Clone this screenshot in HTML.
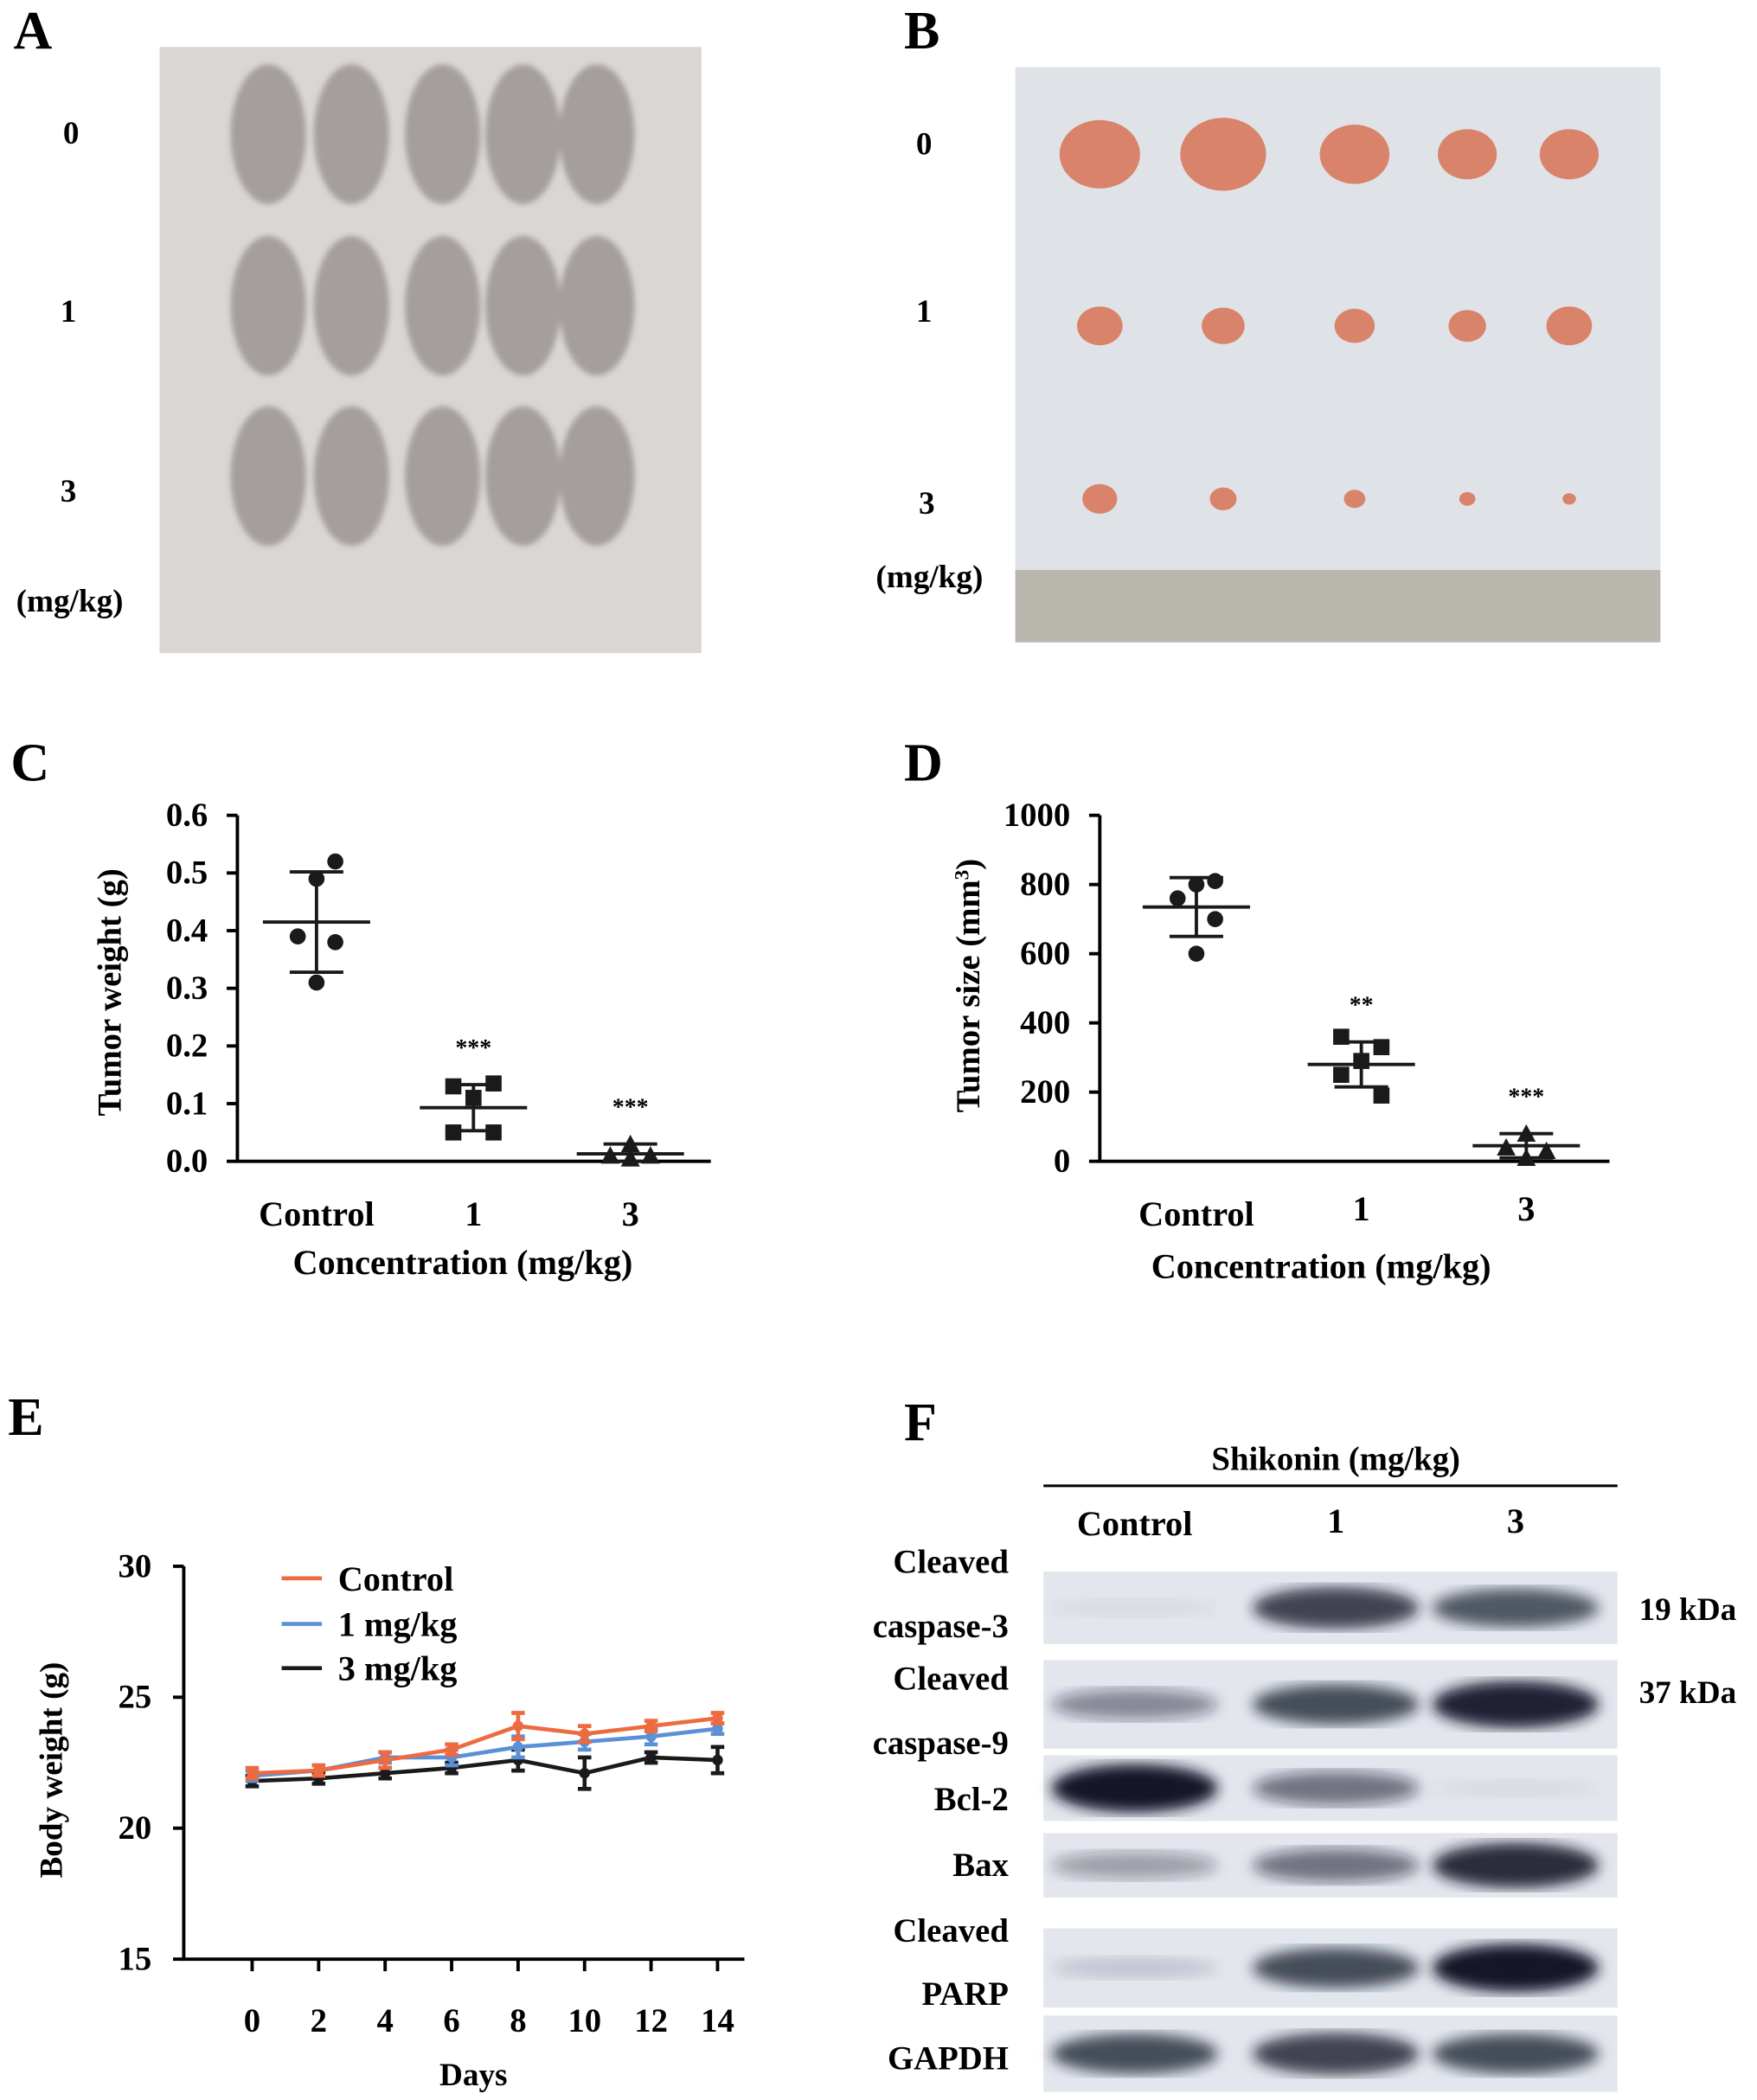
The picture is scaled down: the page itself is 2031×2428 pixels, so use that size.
<!DOCTYPE html>
<html><head><meta charset="utf-8"><style>
html,body{margin:0;padding:0;background:#fff}
svg{display:block;font-family:"Liberation Serif",serif;font-weight:bold}
</style></head><body>
<svg id="fig" width="2031" height="2428" viewBox="0 0 1310 1566" xmlns="http://www.w3.org/2000/svg">
<defs>
<filter id="blur4"><feGaussianBlur stdDeviation="5"/></filter>
<filter id="blur2"><feGaussianBlur stdDeviation="2"/></filter>
</defs>
<g>
<text x="10" y="36" font-size="40">A</text>
<rect x="119" y="35" width="404" height="452" fill="#d9d6d3"/>
<text x="47" y="107" font-size="24">0</text>
<text x="45" y="240" font-size="24">1</text>
<text x="45" y="374" font-size="24">3</text>
<text x="12" y="456" font-size="24">(mg/kg)</text>
<g id="mice" filter="url(#blur2)"></g>
</g>
<g>
<text x="674" y="36" font-size="40">B</text>
<rect x="757" y="50" width="481" height="429" fill="#dfe3e8"/>
<rect x="757" y="425" width="481" height="54" fill="#b9b7ae"/>
<text x="683" y="115" font-size="24">0</text>
<text x="683" y="240" font-size="24">1</text>
<text x="685" y="383" font-size="24">3</text>
<text x="653" y="438" font-size="24">(mg/kg)</text>
<g id="tumors"></g>
</g>
<g id="panelC">
<text x="8" y="582" font-size="40">C</text>
<text transform="translate(90,740) rotate(-90)" text-anchor="middle" font-size="25">Tumor weight (g)</text>
<text x="345" y="950" text-anchor="middle" font-size="26">Concentration (mg/kg)</text>
</g>
<g id="panelD">
<text x="674" y="582" font-size="40">D</text>
<text transform="translate(730,735) rotate(-90)" text-anchor="middle" font-size="25">Tumor size (mm<tspan font-size="15" dy="-8">3</tspan><tspan dy="8">)</tspan></text>
<text x="985" y="953" text-anchor="middle" font-size="26">Concentration (mg/kg)</text>
</g>
<g id="panelE">
<text x="6" y="1070" font-size="40">E</text>
<text transform="translate(46,1320) rotate(-90)" text-anchor="middle" font-size="24">Body weight (g)</text>
<text x="353" y="1555" text-anchor="middle" font-size="24">Days</text>
</g>
<g id="panelF">
<text x="674" y="1074" font-size="40">F</text>
<text x="996" y="1096" text-anchor="middle" font-size="25">Shikonin (mg/kg)</text>
<line x1="778" y1="1108" x2="1206" y2="1108" stroke="#000" stroke-width="2"/>
<text x="846" y="1145" text-anchor="middle" font-size="26">Control</text>
<text x="996" y="1143" text-anchor="middle" font-size="26">1</text>
<text x="1130" y="1143" text-anchor="middle" font-size="26">3</text>
<text x="1222" y="1208" font-size="24">19 kDa</text>
<text x="1222" y="1270" font-size="24">37 kDa</text>
</g>
</svg>
<script>
var NS='http://www.w3.org/2000/svg';
function mk(tag,a,p){var e=document.createElementNS(NS,tag);for(var k in a)e.setAttribute(k,a[k]);p.appendChild(e);return e;}

var miceG=document.getElementById('mice');
var mouseRows=[100,228,355], mouseCols=[200,262,330,390,445];
mouseRows.forEach(function(ry){mouseCols.forEach(function(cx){
  var m=mk('ellipse',{cx:cx,cy:ry,rx:28,ry:52,fill:'#a49e9d'},miceG);
  
  
});});

var tumG=document.getElementById('tumors');
var tumorRows=[115,243,372], tumorCols=[820,912,1010,1094,1170];
var tumorSizes=[[30,32,26,22,22],[17,16,15,14,17],[13,10,8,6,5]];
tumorRows.forEach(function(ry,i){tumorCols.forEach(function(cx,j){
  var s=tumorSizes[i][j];
  var t=mk('ellipse',{cx:cx,cy:ry,rx:s,ry:s*0.85,fill:'#d9846a'},tumG);
  
  
});});

var cCats=['Control','1','3'];
var cTicks=[0,0.1,0.2,0.3,0.4,0.5,0.6];
var cTickLabels=['0.0','0.1','0.2','0.3','0.4','0.5','0.6'];
var cCtrl=[0.52,0.49,0.39,0.38,0.31];
var cDose1=[0.13,0.135,0.11,0.05,0.05];
var cDose3=[0.03,0.01,0.01,0.005,0.005];
var cMean=[0.415,0.093,0.013];
var cSD=[0.087,0.04,0.017];
var cStars=['','***','***'];
var dCats=['Control','1','3'];
var dTicks=[0,200,400,600,800,1000];
var dCtrl=[810,800,760,700,600];
var dDose1=[360,330,290,250,190];
var dDose3=[80,40,30,10,10];
var dMean=[735,280,45];
var dSD=[85,65,35];
var dStars=['','**','***'];
var eDays=[0,2,4,6,8,10,12,14];
var eTicks=[15,20,25,30];
var eCtrl=[22.1,22.2,22.6,23.0,23.9,23.6,23.9,24.2];
var eCtrlErr=[0.2,0.2,0.3,0.2,0.5,0.3,0.2,0.2];
var eDose1=[22.0,22.2,22.7,22.7,23.1,23.3,23.5,23.8];
var eDose1Err=[0.2,0.2,0.2,0.3,0.4,0.3,0.3,0.2];
var eDose3=[21.8,21.9,22.1,22.3,22.6,22.1,22.7,22.6];
var eDose3Err=[0.2,0.2,0.2,0.2,0.4,0.6,0.2,0.5];
var fProteins=['caspase-3','caspase-9','Bcl-2','Bax','PARP','GAPDH'];
var fBands=[[0.05,0.8,0.7],[0.45,0.75,0.95],[1.0,0.55,0.05],[0.35,0.55,0.9],[0.15,0.75,1.0],[0.75,0.8,0.75]];

function scatterPanel(g,cfg){
  var x0=cfg.x0,x1=cfg.x1,yTop=cfg.yTop,yBot=cfg.yBot,vmax=cfg.vmax;
  function y(v){return yBot-(v/vmax)*(yBot-yTop);}
  var ax=mk('path',{d:'M'+x0+' '+yTop+'V'+yBot+'H'+x1,stroke:'#000','stroke-width':2.5,fill:'none'},g);
  
  
  cfg.ticks.forEach(function(t,i){
    var tk=mk('line',{x1:x0-8,x2:x0,y1:y(t),y2:y(t),stroke:'#000','stroke-width':2.5},g);
    
    
    var tl=mk('text',{x:x0-22,y:y(t)+8,'text-anchor':'end','font-size':25},g);
    tl.textContent=cfg.tickLabels?cfg.tickLabels[i]:t;
    
    
  });
  var series=[cfg.s0,cfg.s1,cfg.s2];
  var jit=[[14,0,-14,14,0],[-15,15,0,-15,15],[0,-15,15,0,0]];
  cfg.cats.forEach(function(c,i){
    var cx=cfg.cx[i];
    var lb=mk('text',{x:cx,y:cfg.labelY[i],'text-anchor':'middle','font-size':26},g);
    lb.textContent=c;
    
    
    series[i].forEach(function(v,j){
      var px=cx+jit[i][j],py=y(v),mark;
      if(i==0) mark=mk('circle',{cx:px,cy:py,r:6,fill:'#1a1a1a'},g);
      else if(i==1) mark=mk('rect',{x:px-6,y:py-6,width:12,height:12,fill:'#1a1a1a'},g);
      else mark=mk('path',{d:'M'+px+' '+(py-7)+'L'+(px+7)+' '+(py+6)+'L'+(px-7)+' '+(py+6)+'Z',fill:'#1a1a1a'},g);
      
      
    });
    var m=cfg.mean[i],s=cfg.sd[i];
    var ml=mk('line',{x1:cx-40,x2:cx+40,y1:y(m),y2:y(m),stroke:'#1a1a1a','stroke-width':2.5},g);
    
    
    var eb=mk('path',{d:'M'+cx+' '+y(m+s)+'V'+y(Math.max(m-s,0))+'M'+(cx-20)+' '+y(m+s)+'h40M'+(cx-20)+' '+y(Math.max(m-s,0))+'h40',stroke:'#1a1a1a','stroke-width':2.5,fill:'none'},g);
    
    
    if(cfg.stars[i]){
      var st=mk('text',{x:cx,y:y(m+s)-22,'text-anchor':'middle','font-size':18},g);
      st.textContent=cfg.stars[i];
      
      
    }
  });
}
scatterPanel(document.getElementById('panelC'),{x0:177,x1:530,yTop:608,yBot:866,vmax:0.6,ticks:cTicks,tickLabels:cTickLabels,cats:cCats,cx:[236,353,470],labelY:[914,914,914],s0:cCtrl,s1:cDose1,s2:cDose3,mean:cMean,sd:cSD,stars:cStars});
scatterPanel(document.getElementById('panelD'),{x0:820,x1:1200,yTop:608,yBot:866,vmax:1000,ticks:dTicks,cats:dCats,cx:[892,1015,1138],labelY:[914,910,910],s0:dCtrl,s1:dDose1,s2:dDose3,mean:dMean,sd:dSD,stars:dStars});

(function(){
  var g=document.getElementById('panelE');
  var x0=137,x1=555,yTop=1168,yBot=1461;
  function x(d){return 188+d*(535-188)/14;}
  function y(v){return yBot-(v-15)/15*(yBot-yTop);}
  var ax=mk('path',{d:'M'+x0+' '+yTop+'V'+yBot+'H'+x1,stroke:'#000','stroke-width':2.5,fill:'none'},g);
  
  
  eTicks.forEach(function(t){
    var tk=mk('line',{x1:x0-8,x2:x0,y1:y(t),y2:y(t),stroke:'#000','stroke-width':2.5},g);
    
    
    var tl=mk('text',{x:x0-24,y:y(t)+8,'text-anchor':'end','font-size':25},g);
    tl.textContent=t;
    
    
  });
  eDays.forEach(function(d){
    var tk=mk('line',{x1:x(d),x2:x(d),y1:yBot,y2:yBot+9,stroke:'#000','stroke-width':2.5},g);
    
    
    var tl=mk('text',{x:x(d),y:1515,'text-anchor':'middle','font-size':25},g);
    tl.textContent=d;
    
    
  });
  var S=[[eDose3,eDose3Err,'#1a1a1a','3 mg/kg',1244],[eDose1,eDose1Err,'#5b8fd6','1 mg/kg',1211],[eCtrl,eCtrlErr,'#ee6a3f','Control',1177]];
  S.forEach(function(s){
    var d='';
    s[0].forEach(function(v,i){d+=(i?'L':'M')+x(eDays[i])+' '+y(v);});
    var ln=mk('path',{d:d,stroke:s[2],'stroke-width':3,fill:'none'},g);
    
    
    s[0].forEach(function(v,i){
      var cx=x(eDays[i]),e=s[1][i];
      var eb=mk('path',{d:'M'+cx+' '+y(v+e)+'V'+y(v-e)+'M'+(cx-5)+' '+y(v+e)+'h10M'+(cx-5)+' '+y(v-e)+'h10',stroke:s[2],'stroke-width':3,fill:'none'},g);
      
      
      var pt=mk('circle',{cx:cx,cy:y(v),r:4,fill:s[2]},g);
      
      
    });
    var ll=mk('line',{x1:210,x2:240,y1:s[4],y2:s[4],stroke:s[2],'stroke-width':3},g);
    
    
    var lt=mk('text',{x:252,y:s[4]+9,'font-size':26},g);
    lt.textContent=s[3];
    
    
  });
})();

(function(){
  var g=document.getElementById('panelF');
  var rows=[[1172,1226],[1238,1304],[1309,1358],[1367,1415],[1438,1497],[1503,1560]];
  var lanes=[846,996,1130];
  var labels=[['Cleaved',1173],['caspase-3',1221],['Cleaved',1260],['caspase-9',1308],['Bcl-2',1350],['Bax',1399],['Cleaved',1448],['PARP',1495],['GAPDH',1543]];
  labels.forEach(function(l){
    var t=mk('text',{x:752,y:l[1],'text-anchor':'end','font-size':25},g);
    t.textContent=l[0];
    
    
  });
  rows.forEach(function(r,i){
    var bg=mk('rect',{x:778,y:r[0],width:428,height:r[1]-r[0],fill:'#e4e6ee'},g);
    
    
    fBands[i].forEach(function(v,j){
      var b=mk('ellipse',{cx:lanes[j],cy:(r[0]+r[1])/2,rx:62,ry:6+v*12,fill:'#15182a','fill-opacity':v,filter:'url(#blur4)'},g);
      
      
    });
  });
})();
</script>
</body></html>
